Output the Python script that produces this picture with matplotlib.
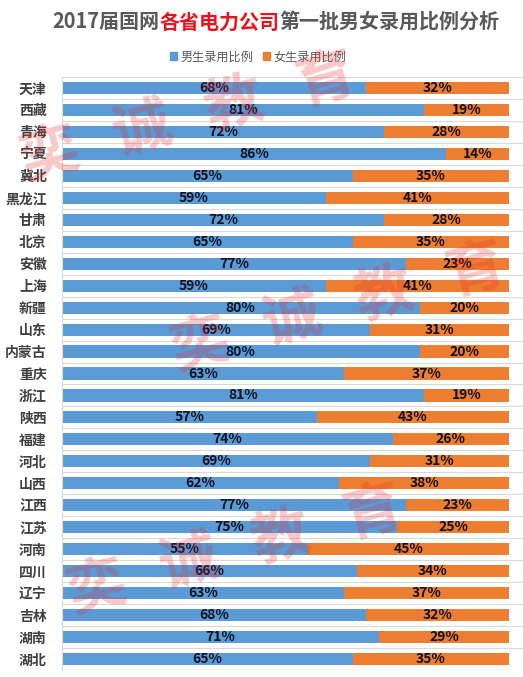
import numpy as np
import matplotlib.pyplot as plt
from matplotlib.patches import Patch

plt.rcParams['font.family'] = ['Noto Sans CJK SC', 'DejaVu Sans']

# data ------------------------------------------------------------------
provinces = ['天津', '西藏', '青海', '宁夏', '冀北', '黑龙江', '甘肃', '北京', '安徽',
             '上海', '新疆', '山东', '内蒙古', '重庆', '浙江', '陕西', '福建', '河北',
             '山西', '江西', '江苏', '河南', '四川', '辽宁', '吉林', '湖南', '湖北']
male = [68, 81, 72, 86, 65, 59, 72, 65, 77, 59, 80, 69, 80, 63, 81, 57, 74, 69,
        62, 77, 75, 55, 66, 63, 68, 71, 65]
female = [32, 19, 28, 14, 35, 41, 28, 35, 23, 41, 20, 31, 20, 37, 19, 43, 26, 31,
          38, 23, 25, 45, 34, 37, 32, 29, 35]
series_names = ['男生录用比例', '女生录用比例']
# -----------------------------------------------------------------------

W, H = 523, 677
blue = '#5B9BD5'
orange = '#ED7D31'
gray = '#595959'

fig = plt.figure(figsize=(W/100, H/100), dpi=100)
ax = fig.add_axes([62/W, 1-670/H, (W-62)/W, (670-77)/H])

y = np.arange(len(provinces))
male = np.array(male)
female = np.array(female)
ax.barh(y, male, height=0.55, color=blue, zorder=2)
ax.barh(y, female, left=male, height=0.55, color=orange, zorder=2)

for i in range(len(y)):
    ax.text(male[i]/2, y[i], f'{male[i]}%', ha='center', va='center',
            fontsize=10, fontweight='bold', color='#111122', zorder=3)
    ax.text(male[i] + female[i]/2, y[i], f'{female[i]}%', ha='center', va='center',
            fontsize=10, fontweight='bold', color='#111122', zorder=3)

ax.set_xlim(0, 100*461/447)
ax.set_ylim(len(y)-0.5, -0.5)
ax.set_yticks(y)
ax.set_yticklabels(provinces, fontsize=10, fontweight='bold', color='#404040')
ax.set_yticks(np.arange(len(y)+1)-0.5, minor=True)
ax.tick_params(axis='y', which='both', length=0, pad=11)
ax.set_xticks([])
ax.grid(axis='y', which='minor', color='#D9D9D9', lw=0.8, zorder=1)
for s in ['top', 'right', 'bottom']:
    ax.spines[s].set_visible(False)
ax.spines['left'].set_color('#D9D9D9')

# title in three colours
t1 = fig.text(52/W, 1-22/H, '2017届国网', fontsize=14.4, fontweight='bold',
              color=gray, ha='left', va='center')
t2 = fig.text(0, 0, '各省电力公司', fontsize=14.4, fontweight='bold', color='#E8141B',
              ha='left', va='center')
t3 = fig.text(0, 0, '第一批男女录用比例分析', fontsize=14.4, fontweight='bold',
              color=gray, ha='left', va='center')
fig.canvas.draw()
r = fig.canvas.get_renderer()
bb = t1.get_window_extent(r)
t2.set_position((bb.x1/W, 1-22/H))
bb = t2.get_window_extent(r)
t3.set_position((bb.x1/W, 1-22/H))

handles = [Patch(color=blue), Patch(color=orange)]
fig.legend(handles, series_names, loc='center', bbox_to_anchor=(258/W, 1-57/H),
           ncol=2, frameon=False, fontsize=8.7, handlelength=0.6, handleheight=0.6,
           handletextpad=0.3, columnspacing=0.8, labelcolor=gray)

# watermark
wm = '奕诚教育'
for sx, sy in [(50, 155), (200, 345), (97, 588)]:
    for k, ch in enumerate(wm):
        fig.text((sx + 92*k)/W, 1-(sy - 25*k)/H, ch, fontsize=42, fontweight='bold',
                 color='#E8282B', alpha=0.25, rotation=15, ha='center', va='center',
                 zorder=10)

fig.savefig('out.png', dpi=100)
